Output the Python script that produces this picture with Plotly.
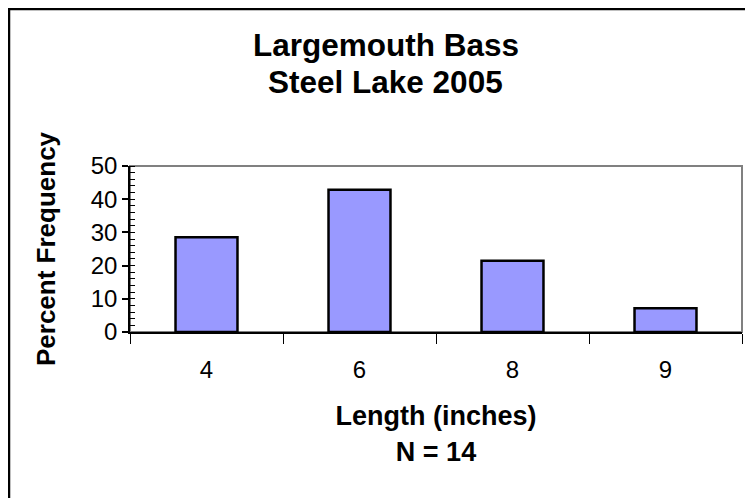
import plotly.graph_objects as go

lengths = ["4", "6", "8", "9"]
percent_frequency = [28.57, 42.86, 21.43, 7.14]
y_ticks = [0, 10, 20, 30, 40, 50]
title_lines = ["Largemouth Bass", "Steel Lake 2005"]

# the page body adds an 8px offset; the figure is laid out to compensate
OFF = 8
W, H = 753 - OFF, 498 - OFF
L, T = 130 - OFF, 166 - OFF
R = W - (742 - OFF)
B = H - (332 - OFF)
pw, ph = W - L - R, H - T - B


def px_to_paper_x(px):
    return (px - OFF - L) / pw


def px_to_paper_y(py):
    return (H - B - (py - OFF)) / ph


fig = go.Figure(go.Bar(
    x=lengths, y=percent_frequency,
    marker=dict(color="#9999FF", line=dict(color="black", width=2.5)),
    hoverinfo="skip",
))

font_family = "Liberation Sans, Arial, sans-serif"

annotations = [
    dict(text=f"<b>{line}</b>", xref="paper", yref="paper",
         x=px_to_paper_x(385.5), y=px_to_paper_y(yc),
         xanchor="center", yanchor="middle", showarrow=False,
         font=dict(size=31.5, family=font_family, color="black"))
    for line, yc in zip(title_lines, [45, 82])
]

fig.update_layout(
    width=W, height=H,
    margin=dict(l=L, r=R, t=T, b=B, autoexpand=False),
    paper_bgcolor="white", plot_bgcolor="white",
    showlegend=False,
    bargap=0.595,
    font=dict(family=font_family, color="black"),
    annotations=annotations,
    shapes=[
        # outer chart border (partially cut off at right/bottom)
        dict(type="rect", xref="paper", yref="paper",
             x0=px_to_paper_x(9), x1=px_to_paper_x(W + 40),
             y0=px_to_paper_y(H + 40), y1=px_to_paper_y(9),
             line=dict(color="black", width=2.5), layer="below"),
        # plot area border (gray)
        dict(type="rect", xref="paper", yref="paper", x0=0, x1=1, y0=0, y1=1,
             line=dict(color="#808080", width=2), layer="below"),
    ],
)

fig.update_xaxes(
    type="category",
    tickson="boundaries",
    ticks="outside", ticklen=10, tickwidth=1.2, tickcolor="black",
    showline=True, linecolor="black", linewidth=1.5,
    showgrid=False, zeroline=False,
    tickfont=dict(size=24, family=font_family, color="black"),
    ticklabelstandoff=15,
    title=dict(text="<b>Length (inches)<br>N = 14</b>",
               font=dict(size=27, family=font_family, color="black"),
               standoff=25),
)

fig.update_yaxes(
    range=[0, 50],
    tickvals=y_ticks,
    ticks="outside", ticklen=6, tickwidth=1.5, tickcolor="black",
    minor=dict(dtick=2, ticks="inside", ticklen=5, tickwidth=1, tickcolor="black", showgrid=False),
    showline=True, linecolor="black", linewidth=1.5,
    showgrid=False, zeroline=False,
    tickfont=dict(size=24, family=font_family, color="black"),
    ticklabelstandoff=0,
    title=dict(text="<b>Percent Frequency</b>",
               font=dict(size=26, family=font_family, color="black"),
               standoff=28),
)

fig.write_html("out.html")
